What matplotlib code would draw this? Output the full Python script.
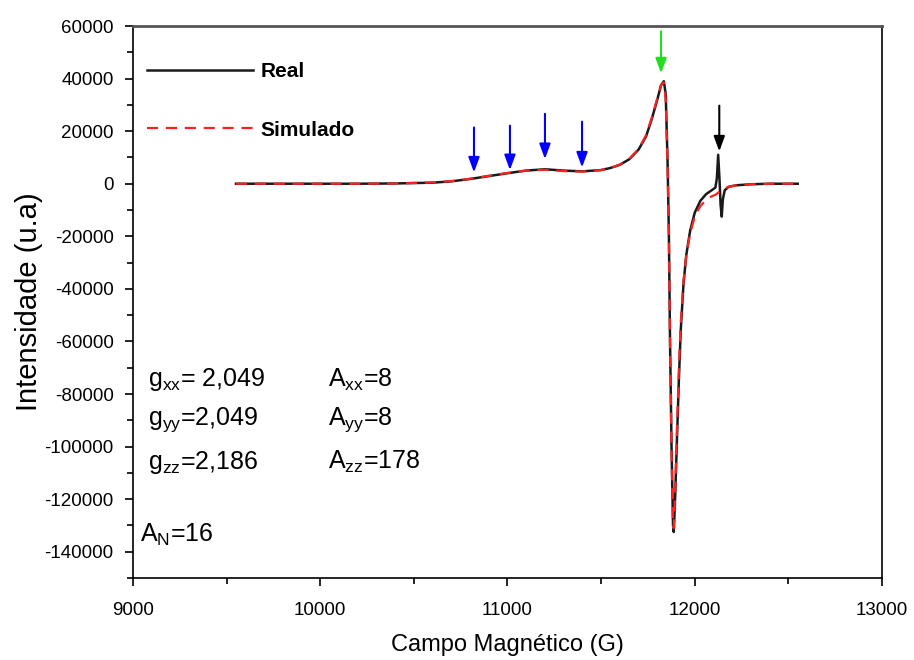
import numpy as np
import matplotlib
matplotlib.use("Agg")
import matplotlib.pyplot as plt
from matplotlib.ticker import MultipleLocator

plt.rcParams['font.family'] = ['Liberation Sans', 'DejaVu Sans']
plt.rcParams['mathtext.fontset'] = 'custom'
plt.rcParams['mathtext.rm'] = 'Liberation Sans'
plt.rcParams['axes.unicode_minus'] = False

## Data
real_x = [9550, 9800, 10000, 10200, 10400, 10600, 10700, 10800, 10900, 11000,
          11100, 11200, 11300, 11400, 11500, 11550, 11600, 11650, 11700, 11740,
          11770, 11800, 11820, 11835, 11845, 11855, 11862, 11868, 11876, 11884,
          11888, 11895, 11905, 11915, 11925, 11940, 11955, 11975, 12000, 12030,
          12060, 12090, 12110, 12118, 12125, 12132, 12138, 12144, 12150, 12160,
          12180, 12220, 12300, 12400, 12550]
real_y = [0, 0, 0, 0, 100, 400, 900, 1800, 2900, 4000,
          5000, 5500, 5000, 4700, 5200, 6000, 7200, 9300, 13000, 18000,
          24500, 32000, 37500, 39000, 34000, 8000, -20000, -60000, -100000, -130000,
          -132500, -120000, -97000, -75000, -56000, -38000, -27000, -18000, -11000, -6500,
          -4000, -2500, -1500, 2000, 11000, 2000, -8000, -12500, -6000, -2500,
          -1200, -600, -200, 0, 0]

sim_x = [9550, 9800, 10000, 10200, 10400, 10600, 10700, 10800, 10900, 11000,
         11100, 11200, 11300, 11400, 11500, 11550, 11600, 11650, 11700, 11740,
         11770, 11800, 11820, 11835, 11845, 11855, 11862, 11868, 11876, 11884,
         11888, 11895, 11905, 11915, 11925, 11940, 11955, 11975, 12000, 12030,
         12060, 12090, 12110, 12130, 12150, 12180, 12220, 12300, 12400, 12550]
sim_y = [0, 0, 0, 0, 100, 500, 1000, 1900, 3000, 4100,
         5000, 5300, 4800, 4600, 5200, 6000, 7300, 9500, 13200, 18500,
         25000, 32500, 37500, 38500, 32000, 6000, -22000, -62000, -102000, -130000,
         -131000, -118000, -93000, -71000, -53000, -37000, -27000, -19000, -12500, -8500,
         -6200, -4800, -4200, -3200, -2000, -1200, -600, -200, 0, 0]

# arrows: field position, tail and tip intensity, colour
arrow_x = [10821, 11013, 11200, 11398, 11820, 12131]
arrow_top = [21400, 22100, 26600, 23600, 58000, 29700]
arrow_tip = [4300, 5200, 9400, 6200, 42000, 12300]
arrow_col = ['#0000ff', '#0000ff', '#0000ff', '#0000ff', '#22dd22', 'black']

fig = plt.figure(figsize=(9.14, 6.6), dpi=100)
ax = fig.add_axes([0.1455, 0.1242, 0.8195, 0.8364])

ax.plot(real_x, real_y, color='#1a1a1a', lw=1.8, label='Real')
ax.plot(sim_x, sim_y, color='#ff2020', lw=1.6, dashes=(5, 3.5), label='Simulado')

for xa, yt, yb, c in zip(arrow_x, arrow_top, arrow_tip, arrow_col):
    ax.annotate('', xy=(xa, yb), xytext=(xa, yt),
                arrowprops=dict(arrowstyle='-|>,head_length=0.6,head_width=0.22',
                                color=c, lw=1.5, mutation_scale=15,
                                shrinkA=0, shrinkB=0))

ax.set_xlim(9000, 13000)
ax.set_ylim(-150000, 60000)
ax.xaxis.set_major_locator(MultipleLocator(1000))
ax.xaxis.set_minor_locator(MultipleLocator(500))
ax.yaxis.set_major_locator(MultipleLocator(20000))
ax.yaxis.set_minor_locator(MultipleLocator(10000))
ax.tick_params(which='major', direction='out', length=6, width=1.2, labelsize=13.5)
ax.tick_params(which='minor', direction='out', length=4, width=1.2)
ax.tick_params(axis='x', pad=11)
ax.tick_params(axis='y', pad=8)
for s in ax.spines.values():
    s.set_linewidth(1.2)
ax.spines['top'].set_color('#555555')
ax.spines['top'].set_linewidth(2)

ax.set_xlabel('Campo Magnético (G)', fontsize=17, labelpad=11)
ax.set_ylabel('Intensidade (u.a)', fontsize=21, labelpad=1)

ax.legend(loc='upper left', bbox_to_anchor=(-0.012, 0.976), frameon=False,
          handlelength=5.1, handletextpad=0.35, labelspacing=1.9,
          borderpad=1.1, borderaxespad=0,
          prop={'size': 15, 'weight': 'bold'})

# parametros de simulacao
txt = dict(transform=ax.transAxes, fontsize=18, va='center', ha='left')
ax.text(0.02, 0.359, r'g$_\mathrm{xx}$= 2,049', **txt)
ax.text(0.02, 0.286, r'g$_\mathrm{yy}$=2,049', **txt)
ax.text(0.02, 0.210, r'g$_\mathrm{zz}$=2,186', **txt)
ax.text(0.26, 0.359, r'A$_\mathrm{xx}$=8', **txt)
ax.text(0.26, 0.286, r'A$_\mathrm{yy}$=8', **txt)
ax.text(0.26, 0.210, r'A$_\mathrm{zz}$=178', **txt)
ax.text(0.009, 0.078, r'A$_\mathrm{N}$=16', **txt)

plt.savefig('out.png', dpi=100)
